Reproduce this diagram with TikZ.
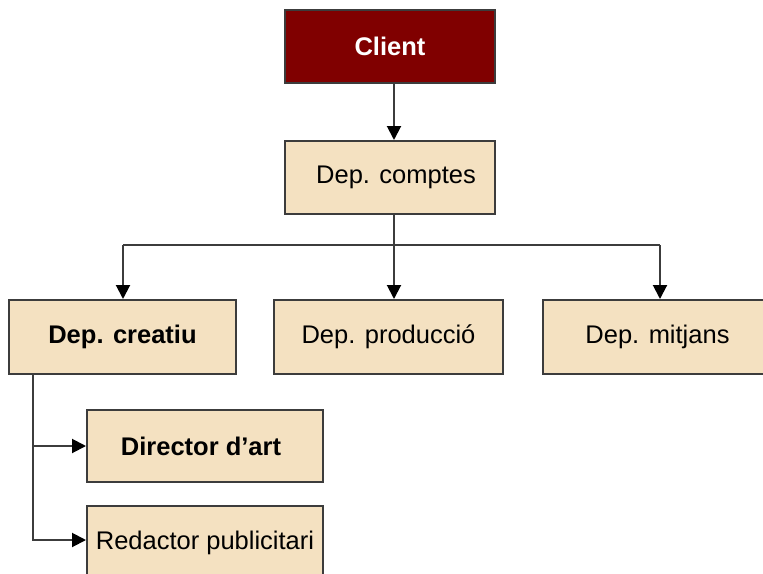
\documentclass[tikz,border=0pt]{standalone}
\usepackage{fontspec}
\setmainfont{Liberation Sans}
\usetikzlibrary{arrows.meta}
\definecolor{boxfill}{HTML}{F4E1C1}
\definecolor{boxline}{HTML}{3C3C3C}
\definecolor{clientred}{HTML}{800000}
\tikzset{
  unit/.style={draw=boxline, line width=2pt, fill=boxfill, inner sep=0pt,
    font=\fontsize{25.5}{30}\selectfont, text=black},
  topunit/.style={unit, fill=clientred, text=white, font=\fontsize{25.5}{30}\selectfont\bfseries},
  link/.style={draw=boxline, line width=2pt},
  arr/.style={link, -{Triangle[width=14pt,length=14pt,color=black,fill=black]}}
}
\begin{document}
\begin{tikzpicture}[x=1pt, y=-1pt]
  \useasboundingbox (0,0) rectangle (763,573);
  \clip (0,0) rectangle (763,573);
  \fill[white] (0,0) rectangle (763,573);

  % boxes
  \node[topunit, minimum width=210pt, minimum height=73pt] (client) at (390,46.5) {Client};
  \node[unit, minimum width=210pt, minimum height=73pt] (comptes) at (390,177.5) {\hspace*{12pt}Dep. comptes};
  \node[unit, minimum width=227pt, minimum height=74pt, font=\fontsize{25.5}{30}\selectfont\bfseries] (creatiu) at (122.5,337) {Dep. creatiu};
  \node[unit, minimum width=229pt, minimum height=74pt] (produccio) at (388.5,337) {Dep. producció};
  \node[unit, minimum width=229pt, minimum height=74pt] (mitjans) at (657.5,337) {Dep. mitjans};
  \node[unit, minimum width=236pt, minimum height=72pt, font=\fontsize{25.5}{30}\selectfont\bfseries] (director) at (205,446) {\hspace*{-8pt}Director d’art};
  \node[unit, minimum width=236pt, minimum height=74pt] (redactor) at (205,543) {Redactor publicitari};

  % connector junctions
  \coordinate (spine) at (394,245);
  \coordinate (busL) at (123,245);
  \coordinate (busR) at (660,245);
  \coordinate (lsp) at (33,400);

  % connectors
  \draw[arr] (client.south -| spine) -- (comptes.north -| spine);
  \draw[link] (comptes.south -| spine) -- (spine);
  \draw[link] (busL) -- (busR);
  \draw[arr] (busL) -- (creatiu.north -| busL);
  \draw[arr] (spine) -- (produccio.north -| spine);
  \draw[arr] (busR) -- (mitjans.north -| busR);
  \draw[arr] (creatiu.south -| lsp) |- (director.west);
  \draw[arr] (creatiu.south -| lsp) |- ([yshift=3pt]redactor.west);
\end{tikzpicture}
\end{document}
